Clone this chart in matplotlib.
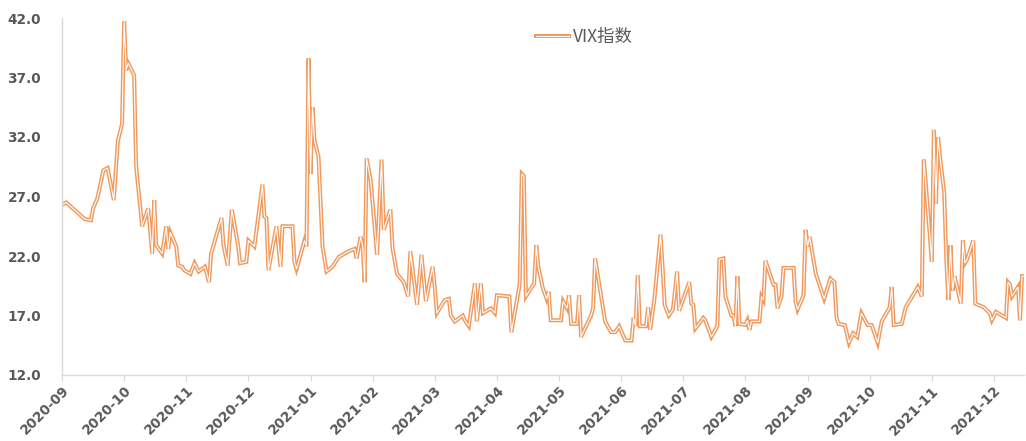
import matplotlib
matplotlib.use("Agg")
import matplotlib.pyplot as plt
import matplotlib.patheffects as pe
import pandas as pd

dates = [
    "2020-09-01", "2020-09-03", "2020-09-12", "2020-09-15", "2020-09-16", "2020-09-18",
    "2020-09-21", "2020-09-23", "2020-09-26", "2020-09-28", "2020-09-30", "2020-10-01",
    "2020-10-02", "2020-10-03", "2020-10-06", "2020-10-07", "2020-10-10", "2020-10-13",
    "2020-10-15", "2020-10-16", "2020-10-17", "2020-10-20", "2020-10-22", "2020-10-23",
    "2020-10-24", "2020-10-27", "2020-10-28", "2020-10-30", "2020-10-31", "2020-11-03",
    "2020-11-05", "2020-11-07", "2020-11-10", "2020-11-12", "2020-11-13", "2020-11-18",
    "2020-11-19", "2020-11-21", "2020-11-23", "2020-11-26", "2020-11-27", "2020-11-30",
    "2020-12-01", "2020-12-04", "2020-12-08", "2020-12-09", "2020-12-10", "2020-12-11",
    "2020-12-15", "2020-12-17", "2020-12-18", "2020-12-23", "2020-12-24", "2020-12-25",
    "2020-12-29", "2020-12-30", "2020-12-31", "2021-01-01", "2021-01-02", "2021-01-03",
    "2021-01-05", "2021-01-07", "2021-01-09", "2021-01-12", "2021-01-15", "2021-01-20",
    "2021-01-23", "2021-01-24", "2021-01-26", "2021-01-27", "2021-01-28", "2021-01-29",
    "2021-01-31", "2021-02-03", "2021-02-05", "2021-02-06", "2021-02-09", "2021-02-10",
    "2021-02-12", "2021-02-15", "2021-02-17", "2021-02-18", "2021-02-21", "2021-02-23",
    "2021-02-25", "2021-02-28", "2021-03-01", "2021-03-02", "2021-03-06", "2021-03-08",
    "2021-03-09", "2021-03-11", "2021-03-15", "2021-03-16", "2021-03-18", "2021-03-21",
    "2021-03-22", "2021-03-24", "2021-03-25", "2021-03-29", "2021-03-31", "2021-04-01",
    "2021-04-07", "2021-04-08", "2021-04-12", "2021-04-13", "2021-04-14", "2021-04-15",
    "2021-04-19", "2021-04-20", "2021-04-21", "2021-04-23", "2021-04-25", "2021-04-26",
    "2021-04-27", "2021-05-02", "2021-05-03", "2021-05-05", "2021-05-06", "2021-05-07",
    "2021-05-10", "2021-05-11", "2021-05-12", "2021-05-17", "2021-05-18", "2021-05-19",
    "2021-05-24", "2021-05-27", "2021-05-29", "2021-05-31", "2021-06-03", "2021-06-06",
    "2021-06-07", "2021-06-08", "2021-06-09", "2021-06-10", "2021-06-13", "2021-06-14",
    "2021-06-15", "2021-06-17", "2021-06-20", "2021-06-21", "2021-06-22", "2021-06-24",
    "2021-06-26", "2021-06-28", "2021-06-29", "2021-07-04", "2021-07-05", "2021-07-06",
    "2021-07-07", "2021-07-11", "2021-07-12", "2021-07-15", "2021-07-18", "2021-07-19",
    "2021-07-21", "2021-07-22", "2021-07-25", "2021-07-26", "2021-07-27", "2021-07-28",
    "2021-07-29", "2021-08-01", "2021-08-02", "2021-08-03", "2021-08-04", "2021-08-08",
    "2021-08-09", "2021-08-10", "2021-08-11", "2021-08-15", "2021-08-16", "2021-08-17",
    "2021-08-19", "2021-08-20", "2021-08-25", "2021-08-26", "2021-08-27", "2021-08-30",
    "2021-08-31", "2021-09-01", "2021-09-02", "2021-09-05", "2021-09-09", "2021-09-12",
    "2021-09-14", "2021-09-15", "2021-09-16", "2021-09-19", "2021-09-21", "2021-09-23",
    "2021-09-25", "2021-09-27", "2021-09-30", "2021-10-02", "2021-10-05", "2021-10-07",
    "2021-10-11", "2021-10-12", "2021-10-13", "2021-10-17", "2021-10-19", "2021-10-24",
    "2021-10-25", "2021-10-27", "2021-10-28", "2021-10-29", "2021-11-01", "2021-11-02",
    "2021-11-03", "2021-11-04", "2021-11-05", "2021-11-07", "2021-11-08", "2021-11-09",
    "2021-11-10", "2021-11-11", "2021-11-12", "2021-11-15", "2021-11-16", "2021-11-17",
    "2021-11-18", "2021-11-21", "2021-11-22", "2021-11-26", "2021-11-29", "2021-11-30",
    "2021-12-02", "2021-12-07", "2021-12-08", "2021-12-09", "2021-12-10", "2021-12-13",
    "2021-12-14", "2021-12-15", "2021-12-16",
]

vix = [
    26.3, 26.5, 25.1, 25.0, 26.0, 26.8,
    29.2, 29.4, 26.7, 31.7, 33.1, 41.7,
    37.6, 38.2, 37.2, 29.5, 24.5, 26.0,
    22.2, 26.7, 22.9, 22.2, 24.5, 22.6,
    24.0, 22.8, 21.2, 21.1, 20.8, 20.5,
    21.4, 20.7, 21.1, 19.8, 22.2, 25.2,
    22.9, 21.2, 25.9, 22.9, 21.4, 21.5,
    23.3, 22.8, 28.0, 25.3, 25.2, 20.8,
    24.5, 21.1, 24.5, 24.5, 21.5, 20.9,
    23.3, 22.8, 38.6, 28.9, 34.5, 31.7,
    30.3, 22.8, 20.7, 21.1, 21.9, 22.4,
    22.6, 21.8, 23.6, 22.9, 19.8, 30.2,
    28.4, 22.1, 30.1, 24.2, 25.9, 22.6,
    20.5, 19.8, 18.6, 22.4, 17.9, 22.1,
    18.2, 21.1, 19.4, 17.2, 18.3, 18.4,
    17.0, 16.5, 17.0, 16.6, 16.1, 19.7,
    16.5, 19.7, 17.2, 17.6, 17.2, 18.7,
    18.6, 15.6, 19.6, 28.9, 28.7, 18.6,
    19.7, 22.9, 21.1, 19.4, 18.4, 19.0,
    16.6, 16.6, 18.2, 17.6, 18.7, 16.3,
    16.3, 18.7, 15.2, 17.0, 17.6, 21.8,
    16.5, 15.6, 15.6, 16.1, 14.9, 14.9,
    16.8, 16.1, 20.4, 16.1, 16.1, 17.7,
    15.8, 18.3, 23.8, 21.1, 17.9, 17.0,
    17.5, 20.7, 17.4, 19.8, 18.0, 17.9,
    15.9, 16.8, 16.6, 15.2, 16.1, 21.7,
    21.8, 18.6, 17.0, 17.0, 16.1, 20.3,
    16.3, 16.2, 16.6, 15.8, 16.5, 16.5,
    18.6, 18.3, 21.6, 19.6, 19.6, 17.6,
    18.6, 21.0, 21.0, 18.2, 17.5, 18.7,
    24.2, 22.8, 23.6, 20.5, 18.4, 20.1,
    19.8, 16.8, 16.3, 16.2, 14.7, 15.5,
    15.2, 17.2, 16.2, 16.2, 14.7, 16.5,
    17.7, 19.4, 16.2, 16.3, 17.7, 19.1,
    19.4, 18.6, 30.1, 28.1, 21.5, 32.6,
    26.4, 32.0, 30.3, 27.3, 21.7, 18.3,
    22.9, 19.1, 20.3, 18.0, 23.3, 21.4,
    21.7, 23.3, 18.0, 17.7, 17.2, 16.6,
    17.3, 16.8, 19.8, 19.6, 18.6, 19.4,
    16.6, 20.3, 20.3,
]

month_labels = ["2020-09", "2020-10", "2020-11", "2020-12", "2021-01", "2021-02",
                "2021-03", "2021-04", "2021-05", "2021-06", "2021-07", "2021-08",
                "2021-09", "2021-10", "2021-11", "2021-12"]
y_ticks = [12.0, 17.0, 22.0, 27.0, 32.0, 37.0, 42.0]
series_name = "VIX指数"

# month-based axis: every month gets equal width
d = pd.to_datetime(pd.Series(dates))
start = pd.Timestamp(month_labels[0] + "-01")
xpos = ((d.dt.year - start.year) * 12 + (d.dt.month - start.month)
        + (d.dt.day - 1) / d.dt.days_in_month).to_numpy()

orange = "#F09A5E"
grey_text = "#595959"
axis_grey = "#D9D9D9"

plt.rcParams['font.family'] = ['Noto Sans CJK SC', 'DejaVu Sans']

fig = plt.figure(figsize=(10.26, 4.41), dpi=100)
ax = fig.add_axes([62 / 1026, 66 / 441, (1024 - 62) / 1026, (375 - 18) / 441])

ax.plot(xpos, vix, color="white", lw=0.8, solid_joinstyle="miter",
        path_effects=[pe.Stroke(linewidth=2.9, foreground=orange), pe.Normal()],
        label=series_name)

ax.set_ylim(12.0, 42.0)
ax.set_xlim(0, xpos[-1])
ax.set_yticks(y_ticks)
ax.set_yticklabels([f"{v:.1f}" for v in y_ticks], fontweight="bold",
                   color=grey_text, fontsize=9.8, family=['DejaVu Sans'])
ax.set_xticks(range(len(month_labels)))
ax.set_xticklabels(month_labels, rotation=45, ha="right", rotation_mode="anchor",
                   fontweight="bold", color=grey_text, fontsize=9.8,
                   family=['DejaVu Sans'])
ax.tick_params(axis="y", length=0, pad=15)
ax.tick_params(axis="x", length=4, color=axis_grey, pad=2)

for s in ["top", "right"]:
    ax.spines[s].set_visible(False)
for s in ["left", "bottom"]:
    ax.spines[s].set_color(axis_grey)
    ax.spines[s].set_linewidth(1.0)

leg = ax.legend(loc="upper center", bbox_to_anchor=(0.543, 1.0), frameon=False,
                fontsize=12.5, handlelength=1.9, handletextpad=0.2,
                borderaxespad=0.2)
for t in leg.get_texts():
    t.set_color(grey_text)

fig.savefig("out.png", dpi=100)
